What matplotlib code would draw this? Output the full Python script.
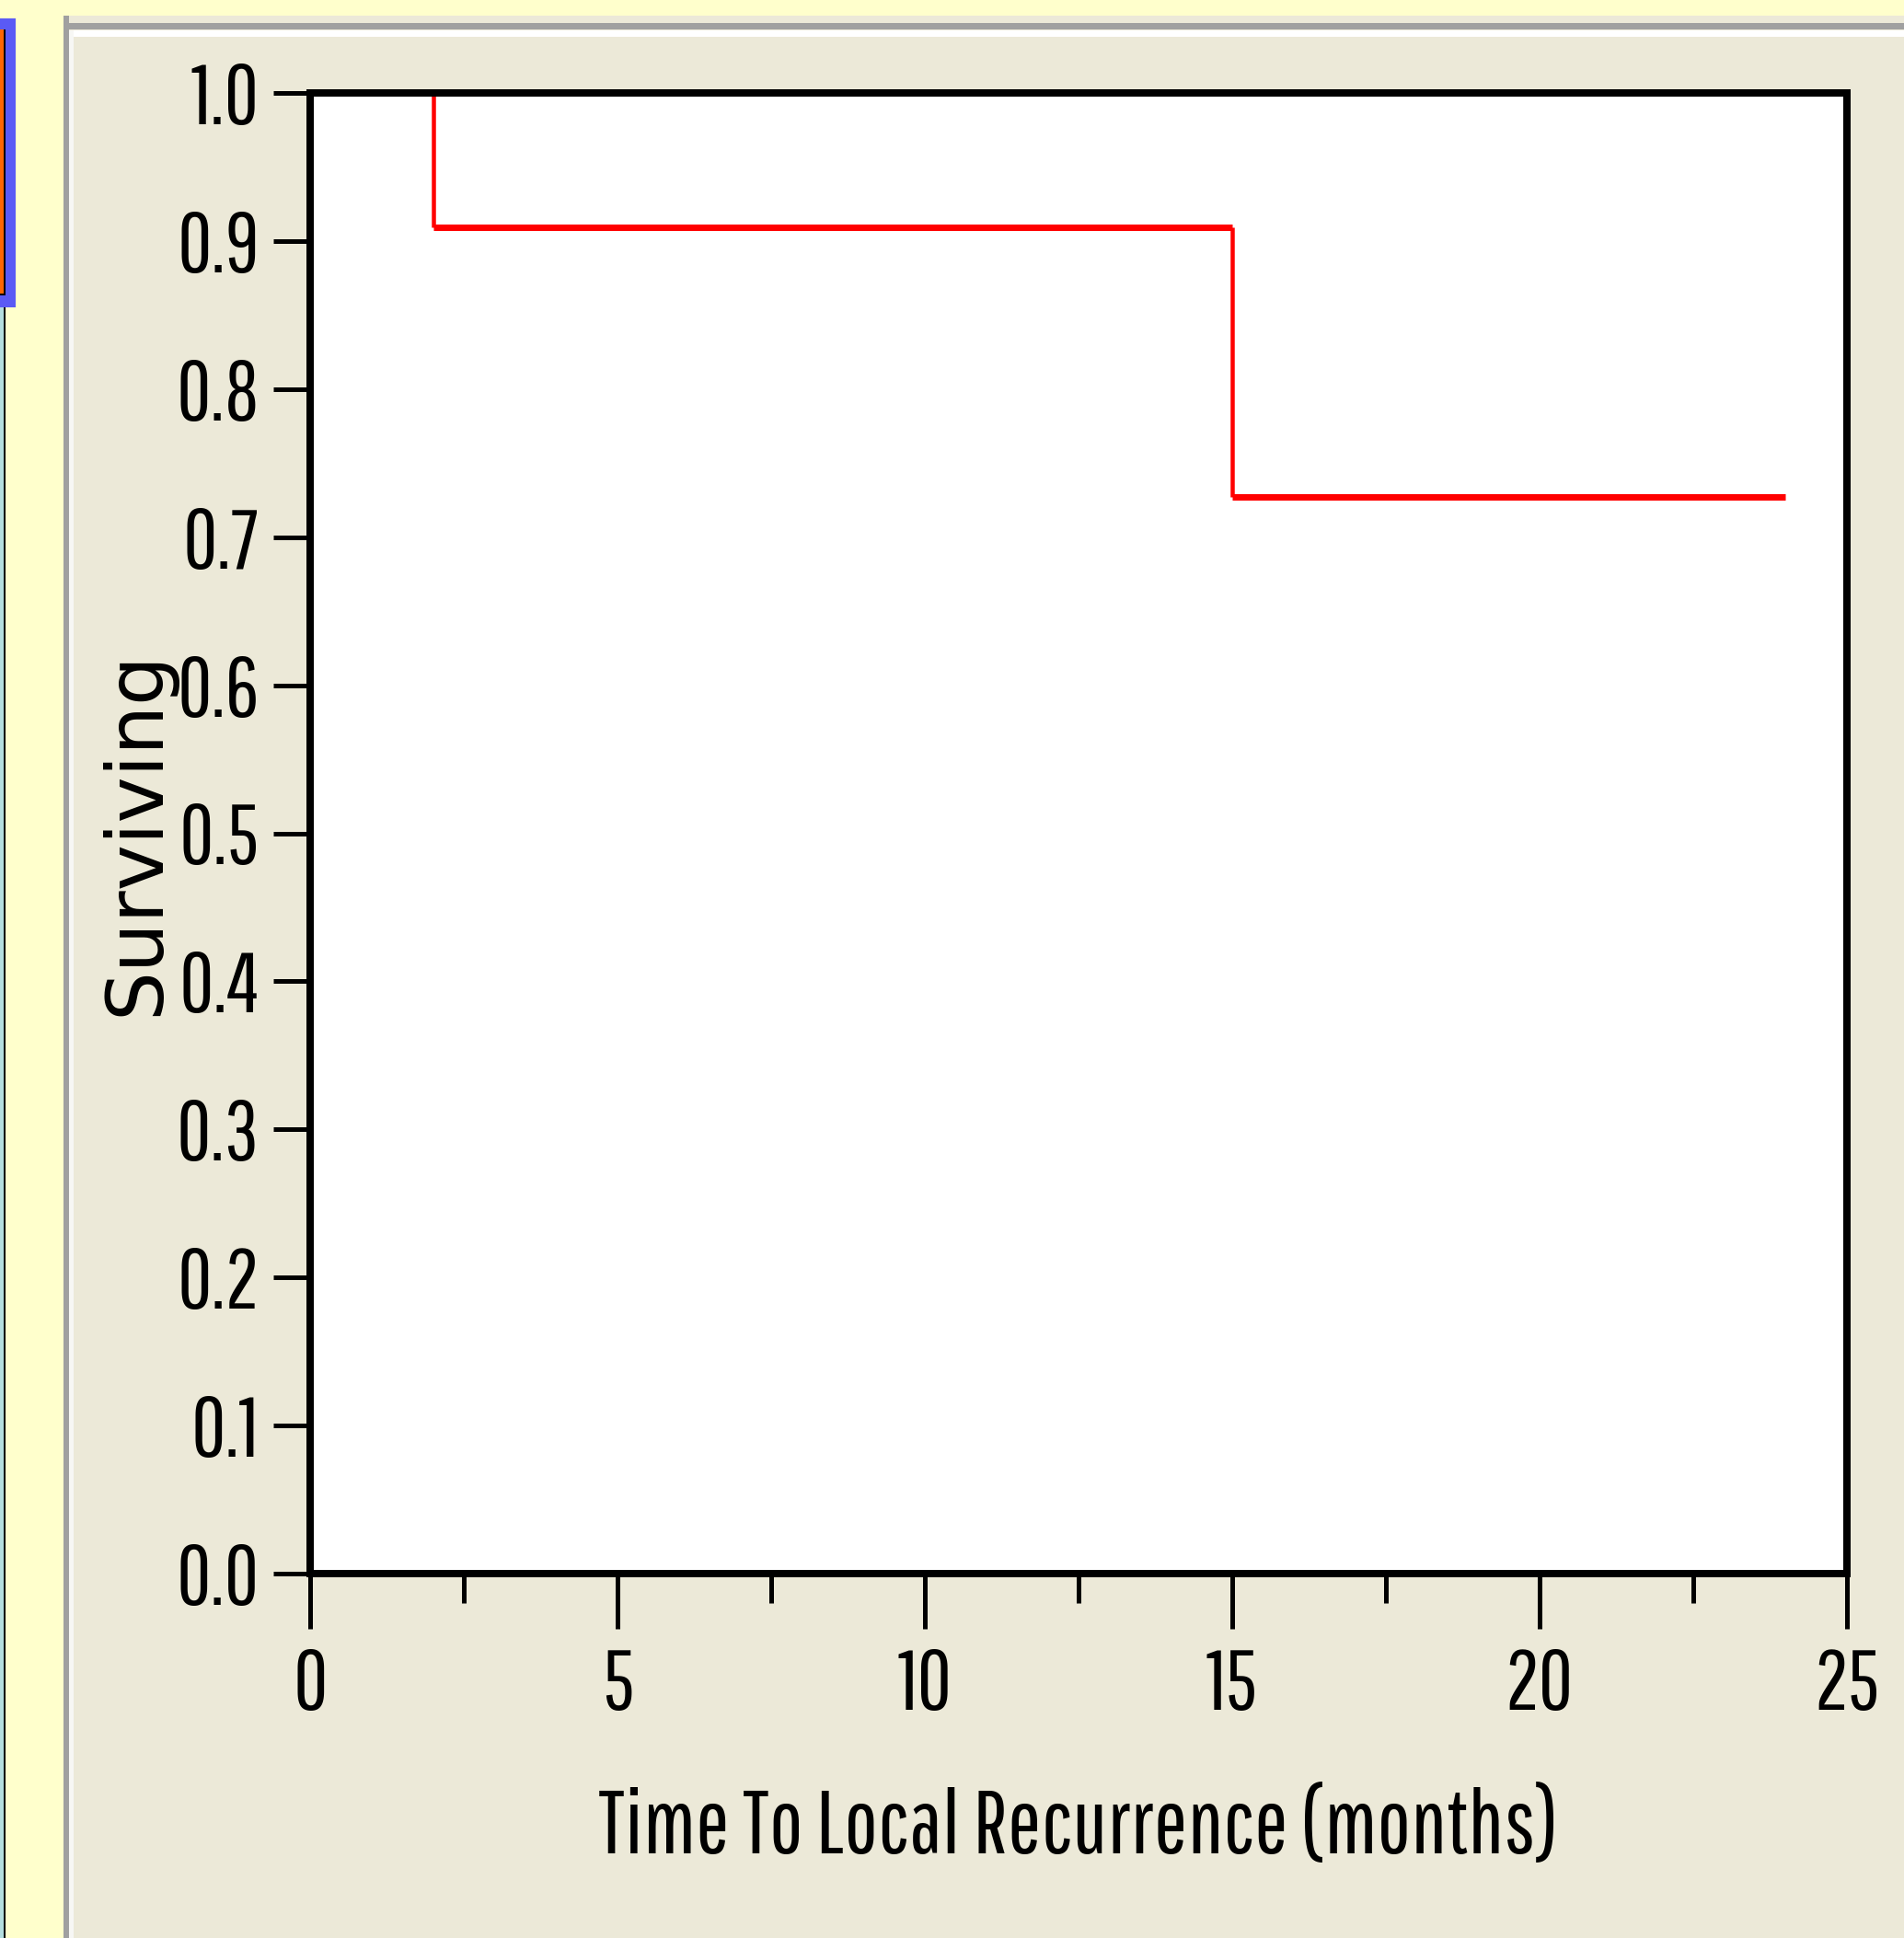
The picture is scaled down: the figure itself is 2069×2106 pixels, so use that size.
import matplotlib
matplotlib.use("Agg")
import matplotlib.pyplot as plt
from matplotlib.patches import Rectangle
from matplotlib import font_manager

# Kaplan-Meier estimate: time to local recurrence
time_months = [0, 2, 15, 24]
surviving = [1.0, 0.909, 0.727, 0.727]

x_ticks = [0, 5, 10, 15, 20, 25]
x_minor_ticks = [2.5, 7.5, 12.5, 17.5, 22.5]
x_tick_labels = ["0", "5", "10", "15", "20", "25"]
y_ticks = [0.0, 0.1, 0.2, 0.3, 0.4, 0.5, 0.6, 0.7, 0.8, 0.9, 1.0]
y_tick_labels = ["0.0", "0.1", "0.2", "0.3", "0.4", "0.5", "0.6", "0.7", "0.8", "0.9", "1.0"]

x_title = "Time To Local Recurrence (months)"
y_title = "Surviving"

W, H, DPI = 2069, 2106, 100
PT = 72.0 / DPI  # points per pixel


def pick_font(names):
    avail = {f.name for f in font_manager.fontManager.ttflist}
    for n in names:
        if n in avail:
            return n
    return "DejaVu Sans"


narrow = pick_font(["Pathway Gothic One", "Sofia Sans Extra Condensed", "PT Sans Narrow"])

fig = plt.figure(figsize=(W / DPI, H / DPI), dpi=DPI, facecolor="#FFFFCC")


def box(x0, y0, x1, y1, color, z=-5):
    fig.patches.append(Rectangle((x0 / W, 1 - y1 / H), (x1 - x0) / W, (y1 - y0) / H,
                                 transform=fig.transFigure, facecolor=color,
                                 edgecolor="none", zorder=z))


# window decorations around the plot panel
box(0, 20, 17, 334, "#5A5AF5", z=-9)
box(0, 32, 4, 320, "#FF6600", z=-8)
box(4, 32, 6, 321, "#000000", z=-8)
box(0, 319, 6, 321, "#000000", z=-8)
box(0, 334, 4, H, "#B4DEE0", z=-8)
box(4, 334, 6, H, "#000000", z=-8)

box(69, 17, W, H, "#ECE9D8", z=-7)
box(69, 25, W, 32, "#A0A0A0", z=-6)
box(69, 17, 75, H, "#A0A0A0", z=-6)
box(75, 33, W, 40, "#FFFFFF", z=-6)
box(75, 33, 80, H, "#F7F7F4", z=-6)

left, right, top, bottom = 337, 2007, 101, 1710
ax = fig.add_axes([left / W, 1 - bottom / H, (right - left) / W, (bottom - top) / H])
ax.set_facecolor("white")
ax.set_xlim(0, 25)
ax.set_ylim(0, 1)

# survival step curve
for i in range(len(time_months) - 1):
    ax.hlines(surviving[i], time_months[i], time_months[i + 1],
              color="#FF0000", lw=7 * PT, zorder=3, clip_on=False)
    if surviving[i + 1] != surviving[i]:
        ax.vlines(time_months[i + 1], surviving[i + 1], surviving[i],
                  color="#FF0000", lw=4.5 * PT, zorder=3, clip_on=False)

for s in ax.spines.values():
    s.set_linewidth(8 * PT)
    s.set_color("black")
    s.set_zorder(4)

tick_font = dict(family=narrow, size=66)
ax.set_xticks(x_ticks)
ax.set_xticklabels(x_tick_labels, fontdict=tick_font)
ax.set_xticks(x_minor_ticks, minor=True)
ax.set_yticks(y_ticks)
ax.set_yticklabels(y_tick_labels, fontdict=tick_font)

ax.tick_params(axis="x", which="major", direction="out", length=60 * PT,
               width=5 * PT, pad=20 * PT, colors="black")
ax.tick_params(axis="x", which="minor", direction="out", length=32 * PT,
               width=5 * PT, colors="black")
ax.tick_params(axis="y", which="major", direction="out", length=40 * PT,
               width=5 * PT, pad=15 * PT, colors="black")

ax.set_xlabel(x_title, family=narrow, size=70, color="black")
ax.xaxis.set_label_coords(0.5, -(1987 - bottom) / (bottom - top))
ax.xaxis.label.set_verticalalignment("center")

ax.set_ylabel(y_title, family="DejaVu Sans", size=61, color="black")
ax.yaxis.set_label_coords(-(left - 149) / (right - left), 0.5)
ax.yaxis.label.set_verticalalignment("center")

fig.savefig("out.png", dpi=DPI, facecolor=fig.get_facecolor())
